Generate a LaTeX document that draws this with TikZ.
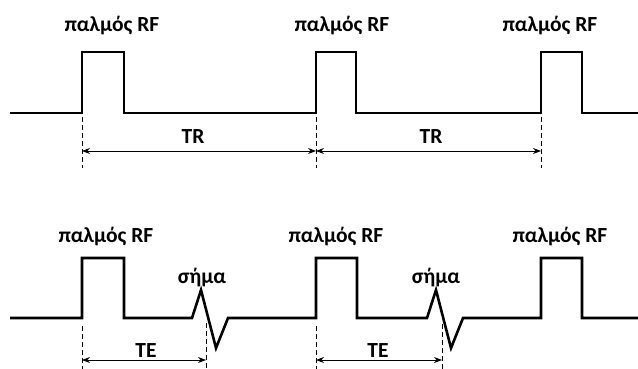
\documentclass[tikz,border=0pt]{standalone}
\usepackage{fontspec}
\setmainfont{Carlito}
\usetikzlibrary{arrows.meta}
\tikzset{
  wave/.style={line width=2.6pt,line join=miter,draw=black},
  guide/.style={line width=0.9pt,dash pattern=on 5pt off 3pt,draw=black},
  span/.style={{Stealth[length=8pt,width=6pt]}-{Stealth[length=8pt,width=6pt]},line width=0.9pt,draw=black},
  lbl/.style={font=\bfseries\fontsize{21.5}{25}\selectfont,inner sep=0pt,anchor=base}
}

\begin{document}
\begin{tikzpicture}[x=1pt,y=-1pt]
  \useasboundingbox (0,0) rectangle (638,369);

  % repetition time row
  \draw[wave] (10,113) -- (82,113) -- (82,52) -- (124,52) -- (124,113)
    -- (316,113) -- (316,52) -- (356,52) -- (356,113)
    -- (541,113) -- (541,52) -- (582,52) -- (582,113) -- (638,113);
  \node[lbl] (rf1) at (112,32) {παλμός RF};
  \node[lbl] (rf2) at (342,32) {παλμός RF};
  \node[lbl] (rf3) at (550,32) {παλμός RF};

  \coordinate (t1a) at (82,117);  \coordinate (t1b) at (82,168);
  \coordinate (t2a) at (316,117); \coordinate (t2b) at (316,168);
  \coordinate (t3a) at (541,117); \coordinate (t3b) at (541,168);
  \draw[guide] (t1a) -- (t1b);
  \draw[guide] (t2a) -- (t2b);
  \draw[guide] (t3a) -- (t3b);
  \coordinate (r1) at (82,151);  \coordinate (r2) at (316,151);
  \coordinate (r3) at (541,151);
  \draw[span] (r1) -- (r2);
  \draw[span] (r2) -- (r3);
  \node[lbl] (tr1) at (193,143) {TR};
  \node[lbl] (tr2) at (431,143) {TR};

  % echo time row
  \draw[wave] (10,318) -- (82,318) -- (82,258) -- (124,258) -- (124,318)
    -- (192,318) -- (201,290) -- (216,348) -- (228,318)
    -- (316,318) -- (316,258) -- (357,258) -- (357,318)
    -- (427,318) -- (436,290) -- (451,348) -- (463,318)
    -- (541,318) -- (541,258) -- (582,258) -- (582,318) -- (638,318);
  \node[lbl] (rf4) at (106,242) {παλμός RF};
  \node[lbl] (rf5) at (336,242) {παλμός RF};
  \node[lbl] (rf6) at (560,242) {παλμός RF};
  \node[lbl] (sig1) at (202,283) {σήμα};
  \node[lbl] (sig2) at (436,283) {σήμα};

  \coordinate (e1a) at (82,326);  \coordinate (e1b) at (82,369);
  \coordinate (e2a) at (206,323); \coordinate (e2b) at (206,369);
  \coordinate (e3a) at (316,326); \coordinate (e3b) at (316,369);
  \coordinate (e4a) at (442,324); \coordinate (e4b) at (442,369);
  \draw[guide] (e1a) -- (e1b);
  \draw[guide] (e2a) -- (e2b);
  \draw[guide] (e3a) -- (e3b);
  \draw[guide] (e4a) -- (e4b);
  \coordinate (s1) at (82,360);  \coordinate (s2) at (206,360);
  \coordinate (s3) at (316,360); \coordinate (s4) at (442,360);
  \draw[span] (s1) -- (s2);
  \draw[span] (s3) -- (s4);
  \node[lbl] (te1) at (146,357) {TE};
  \node[lbl] (te2) at (378,357) {TE};
\end{tikzpicture}
\end{document}
